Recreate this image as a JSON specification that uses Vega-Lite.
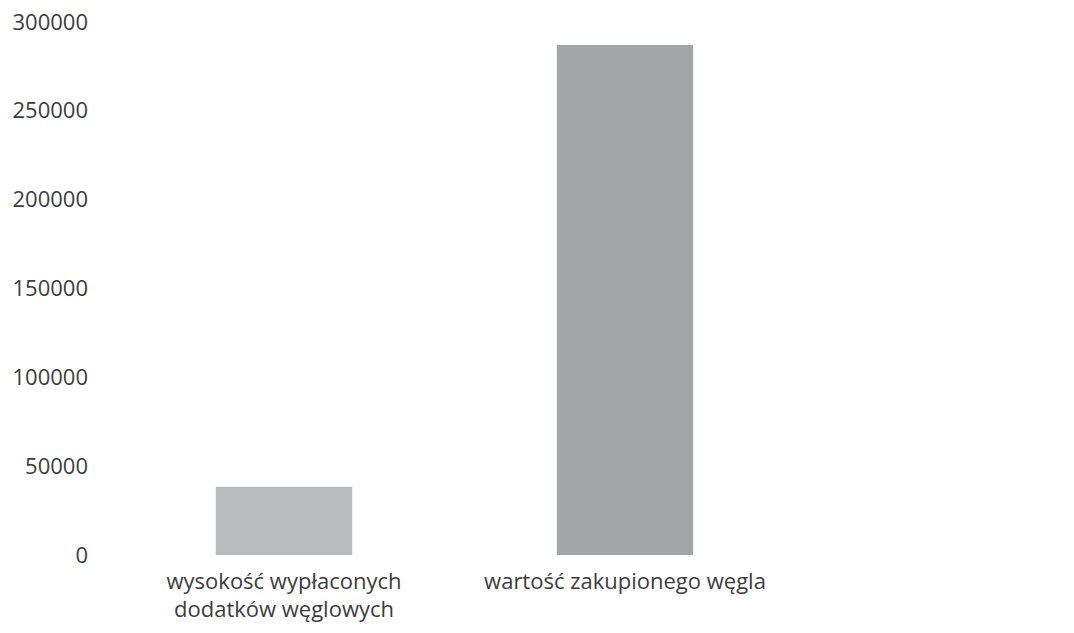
{
  "$schema": "https://vega.github.io/schema/vega-lite/v6.json",
  "width": 682,
  "height": 533,
  "autosize": {"type": "none"},
  "padding": {"left": 113.5, "top": 22, "right": 278.5, "bottom": 78},
  "background": "white",
  "config": {"view": {"stroke": null}, "font": "Open Sans"},
  "data": {
    "values": [
      {"kategoria": "wysokość wypłaconych dodatków węglowych", "wartosc": 38400},
      {"kategoria": "wartość zakupionego węgla", "wartosc": 287000}
    ]
  },
  "mark": {"type": "bar"},
  "encoding": {
    "x": {
      "field": "kategoria",
      "type": "nominal",
      "sort": null,
      "scale": {"paddingInner": 0.6, "paddingOuter": 0.3},
      "axis": {
        "title": null,
        "labelAngle": 0,
        "domain": false,
        "ticks": false,
        "labelFont": "Open Sans",
        "labelFontSize": 22,
        "labelColor": "#3d3d3d",
        "labelPadding": 16,
        "labelLineHeight": 28.5,
        "labelLimit": 0,
        "labelExpr": "datum.value == 'wysokość wypłaconych dodatków węglowych' ? ['wysokość wypłaconych', 'dodatków węglowych'] : datum.value"
      }
    },
    "y": {
      "field": "wartosc",
      "type": "quantitative",
      "scale": {"domain": [0, 300000], "nice": false},
      "axis": {
        "title": null,
        "values": [0, 50000, 100000, 150000, 200000, 250000, 300000],
        "format": "d",
        "grid": false,
        "domain": false,
        "ticks": false,
        "labelAlign": "right",
        "labelBaseline": "middle",
        "labelPadding": 26,
        "labelFont": "Open Sans",
        "labelFontSize": 22,
        "labelColor": "#3d3d3d"
      }
    },
    "color": {
      "field": "kategoria",
      "type": "nominal",
      "scale": {
        "domain": ["wysokość wypłaconych dodatków węglowych", "wartość zakupionego węgla"],
        "range": ["#b8bbbb", "#a2a6a6"]
      },
      "legend": null
    }
  }
}
